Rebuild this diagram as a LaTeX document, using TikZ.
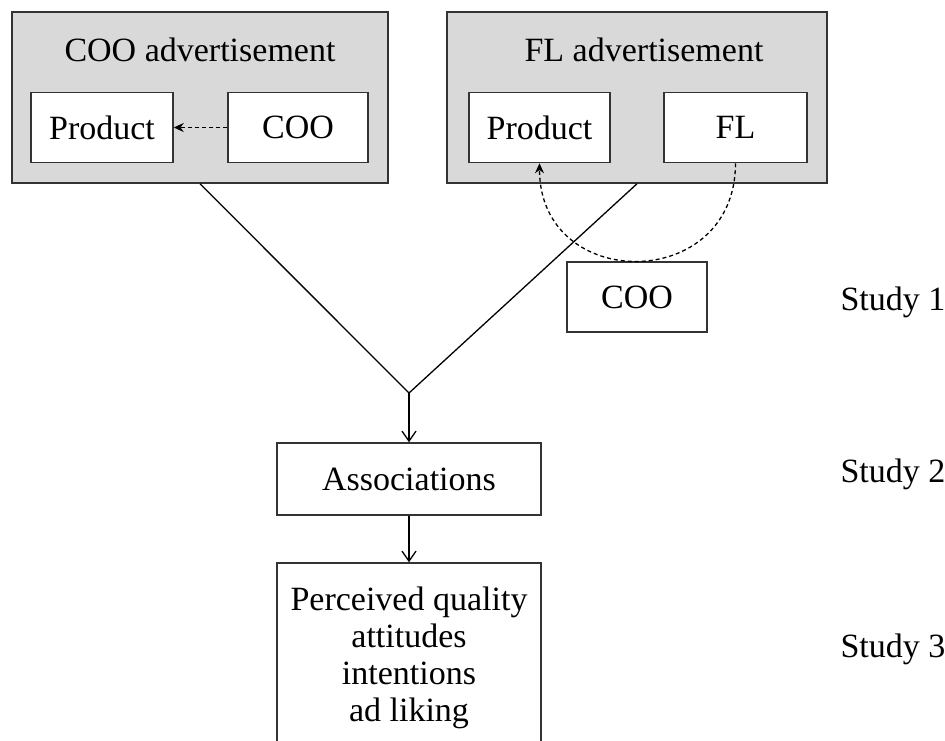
\documentclass[tikz,border=0pt]{standalone}
\usepackage{fontspec}
\setmainfont{Liberation Serif}
\usetikzlibrary{arrows.meta}

\begin{document}
\begin{tikzpicture}[x=1pt, y=-1pt,
    every node/.style={font=\fontsize{34}{37}\selectfont},
    adbox/.style={draw=black!80, line width=1.5pt, fill=black!15,
              minimum width=#1, minimum height=171pt, inner sep=0pt},
    box/.style={draw=black!80, line width=1.5pt, fill=white,
              minimum width=#1, minimum height=70pt, inner sep=0pt},
    arr/.style={line width=1.3pt, -{Straight Barb[length=10pt, width=14pt]}},
    dasharr/.style={line width=1.3pt, dash pattern=on 4pt off 3pt,
              -{Stealth[length=10pt, width=9pt]}}]
    \useasboundingbox (0,0) rectangle (945,740);
    \node[adbox=376] (cooad) at (200,97.5) {};
    \node[adbox=380] (flad) at (637,97.5) {};
    \node[anchor=base] (cootitle) at (200,61) {COO advertisement};
    \node[anchor=base] (fltitle) at (644,61) {FL advertisement};
    \node[box=142] (prodL) at (102,127.5) {Product};
    \node[box=140] (cooL) at (298,127.5) {COO};
    \node[box=141] (prodR) at (539.5,127.5) {Product};
    \node[box=143] (fl) at (735.5,127.5) {FL};
    \node[box=140] (cooR) at (637,297) {COO};
    \node[box=264, minimum height=72pt] (assoc) at (409,479) {Associations};
    \node[box=264, minimum height=200pt] (outcomes) at (409,663) {};
    \node[anchor=north, align=center, inner sep=0pt] (outtext) at (409,587)
        {Perceived quality\\attitudes\\intentions\\ad liking};
    \foreach \n/\yb in {1/310, 2/482, 3/657}
        \node[anchor=base west] (study\n) at (837,\yb) {Study \n};
    \coordinate (join) at (409,393);
    \draw[line width=1.3pt] (cooad.south) -- (join) -- (flad.south);
    \draw[arr] (join) -- (assoc.north);
    \draw[arr] (assoc) -- (outcomes);
    \draw[dasharr] (cooL) -- (prodL);
    \draw[dasharr] (fl.south) to[out=-90, in=-90, looseness=1.7] (prodR.south);
\end{tikzpicture}
\end{document}
